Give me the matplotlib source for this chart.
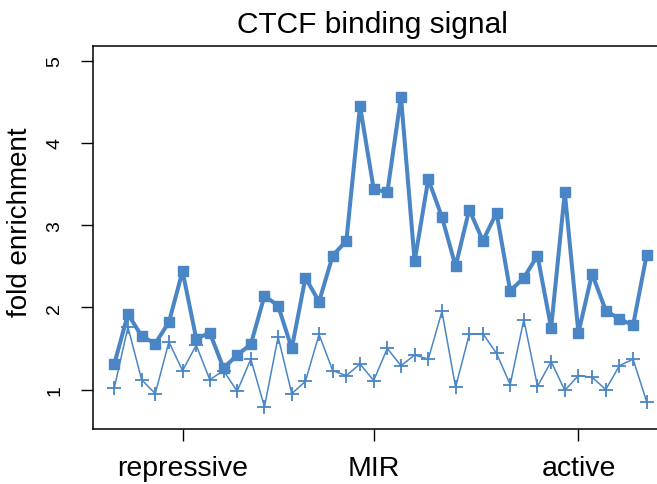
import matplotlib.pyplot as plt
import numpy as np

plt.rcParams['font.family'] = ['Liberation Sans', 'DejaVu Sans']

# fold enrichment per bin, CTCF binding (squares) and input/background (crosses)
ctcf = [1.31, 1.92, 1.65, 1.56, 1.82, 2.44, 1.62, 1.69, 1.26, 1.42,
        1.55, 2.14, 2.02, 1.50, 2.36, 2.07, 2.63, 2.81, 4.45, 3.44,
        3.40, 4.56, 2.56, 3.56, 3.10, 2.50, 3.19, 2.81, 3.15, 2.20,
        2.36, 2.63, 1.75, 3.40, 1.69, 2.41, 1.96, 1.86, 1.78, 2.64]
background = [1.02, 1.76, 1.12, 0.95, 1.58, 1.23, 1.54, 1.12, 1.23, 0.98,
              1.37, 0.79, 1.64, 0.95, 1.10, 1.67, 1.23, 1.17, 1.31, 1.11,
              1.50, 1.29, 1.42, 1.37, 1.95, 1.03, 1.67, 1.68, 1.44, 1.06,
              1.85, 1.04, 1.34, 0.99, 1.17, 1.15, 1.00, 1.29, 1.37, 0.85]
region_pos = [5, 19, 34]
region_names = ["repressive", "MIR", "active"]
yticks = [1, 2, 3, 4, 5]

col = "#4a86c6"
x = np.arange(len(ctcf))

fig = plt.figure(figsize=(6.57, 4.85), dpi=100, facecolor='white')
# plot box runs a little past the right edge of the image
ax = fig.add_axes([93 / 657, 55 / 485, 575 / 657, 383 / 485])

ax.plot(x, ctcf, color=col, lw=2.9, marker='s', ms=7.5, mec=col, mfc=col)
ax.plot(x, background, color=col, lw=1.1, marker='+', ms=10, mew=1.3)

ax.set_xlim(-1.56, 40.56)
ax.set_ylim(0.52, 5.18)

ax.set_yticks(yticks)
ax.set_yticklabels([str(v) for v in yticks], rotation=90, va='center', fontsize=14)
ax.set_xticks(region_pos)
ax.set_xticklabels(region_names, fontsize=20.5)
ax.tick_params(axis='y', length=8.5, width=1, pad=13)
ax.tick_params(axis='x', length=8.5, width=1, pad=10.5)

for s in ax.spines.values():
    s.set_linewidth(1.1)

ax.set_ylabel("fold enrichment", fontsize=20)
ax.yaxis.set_label_coords(-0.104, 0.543)
ax.set_title("CTCF binding signal", fontsize=21.5, x=(372 - 93) / 575, pad=10)

plt.savefig("out.png", dpi=100)
